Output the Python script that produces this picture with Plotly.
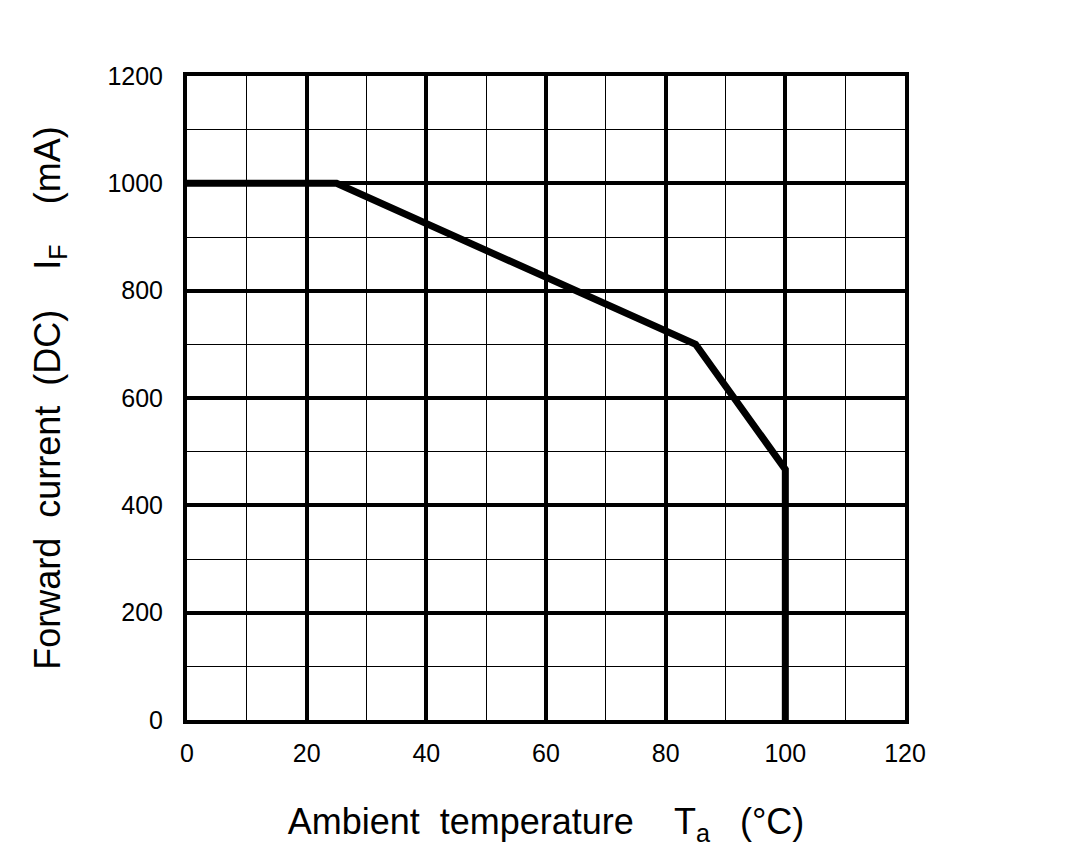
import plotly.graph_objects as go

# derating curve: ambient temperature (degC) vs forward current (mA)
temp_c = [0, 25, 85, 100, 100]
current_ma = [1000, 1000, 700, 467, 0]

x_ticks = [0, 20, 40, 60, 80, 100, 120]
y_ticks = [0, 200, 400, 600, 800, 1000, 1200]

font = "Liberation Sans, Arial, sans-serif"
sp = "\u00a0"

fig = go.Figure()
fig.add_trace(
    go.Scatter(
        x=temp_c,
        y=current_ma,
        mode="lines",
        line=dict(color="black", width=7),
        cliponaxis=False,
        showlegend=False,
    )
)

fig.update_xaxes(
    range=[0, 120],
    tickvals=x_ticks,
    ticks="",
    ticklabelstandoff=8,
    showgrid=True,
    gridcolor="black",
    gridwidth=4,
    minor=dict(dtick=10, showgrid=True, gridcolor="black", gridwidth=1),
    showline=True,
    linecolor="black",
    linewidth=4,
    mirror=True,
    zeroline=False,
    tickfont=dict(family=font, size=25, color="black"),
    title=dict(
        text=f"Ambient{sp*2}temperature{sp*4}T<sub>a</sub>{sp*3}(°C)",
        font=dict(family=font, size=36, color="black"),
        standoff=44,
    ),
)
fig.update_yaxes(
    range=[0, 1200],
    tickvals=y_ticks,
    ticks="",
    ticklabelstandoff=15,
    showgrid=True,
    gridcolor="black",
    gridwidth=4,
    minor=dict(dtick=100, showgrid=True, gridcolor="black", gridwidth=1),
    showline=True,
    linecolor="black",
    linewidth=4,
    mirror=True,
    zeroline=False,
    tickfont=dict(family=font, size=25, color="black"),
    title=dict(
        text=f"Forward{sp*2}current{sp*2}(DC){sp*4}I<sub>F</sub>{sp*4}(mA)",
        font=dict(family=font, size=36, color="black"),
        standoff=37,
    ),
)

fig.update_layout(
    width=1088,
    height=856,
    margin=dict(l=179, r=191, t=68, b=144),
    plot_bgcolor="white",
    paper_bgcolor="white",
)

fig.write_html("out.html")
